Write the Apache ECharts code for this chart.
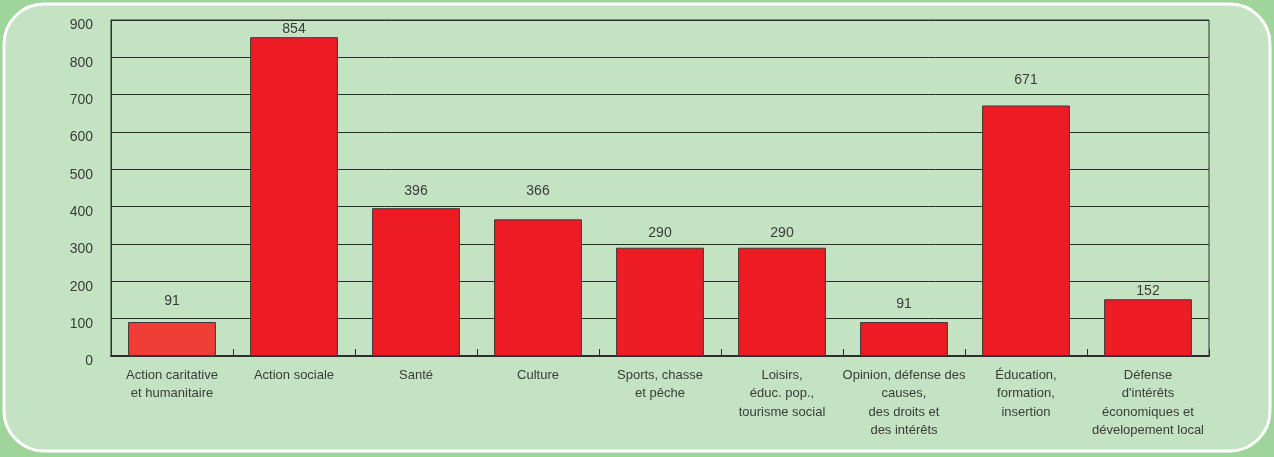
<!DOCTYPE html>
<html>
<head>
<meta charset="utf-8">
<script src="https://cdn.jsdelivr.net/npm/echarts@6/dist/echarts.min.js"></script>
<style>
  html, body { margin: 0; padding: 0; background: #9fd49a; }
  #chart { width: 1274px; height: 457px; }
</style>
</head>
<body>
<div id="chart"></div>
<script>
// Associations by sector of activity
const categories = [
  'Action caritative\net humanitaire',
  'Action sociale',
  'Santé',
  'Culture',
  'Sports, chasse\net pêche',
  'Loisirs,\néduc. pop.,\ntourisme social',
  'Opinion, défense des\ncauses,\ndes droits et\ndes intérêts',
  'Éducation,\nformation,\ninsertion',
  'Défense\nd\'intérêts\néconomiques et\ndévelopement local'
];
const values = [91, 854, 396, 366, 290, 290, 91, 671, 152];
const yTicks = [0, 100, 200, 300, 400, 500, 600, 700, 800, 900];

// gap between each bar top and its value label (layout only)
const labelGap = [14, 1, 10, 21, 8, 8, 11, 18, 1];

const FONT = '"Liberation Sans", Arial, sans-serif';
const TEXT = '#3b3b3b';
const LINE = '#2e2e2e';

const chart = echarts.init(document.getElementById('chart'), null, { renderer: 'canvas' });

const barData = values.map((v, i) => ({
  value: v,
  itemStyle: { color: i === 0 ? '#ef3e36' : '#ed1c24' },
  label: { distance: labelGap[i] }
}));

chart.setOption({
  animation: false,
  backgroundColor: '#9fd49a',
  graphic: [{
    type: 'rect',
    z: -10,
    silent: true,
    shape: { x: 4, y: 4, width: 1266, height: 447, r: 40 },
    style: { fill: '#c4e3c2', stroke: '#ffffff', lineWidth: 3 }
  }],
  grid: {
    left: 111, right: 65, top: 20, bottom: 101,
    show: true, borderColor: LINE, borderWidth: 1, backgroundColor: 'transparent'
  },
  xAxis: {
    type: 'category',
    data: categories,
    axisLine: { show: true, lineStyle: { color: LINE, width: 2 } },
    axisTick: { show: true, inside: true, length: 7, lineStyle: { color: LINE, width: 1 } },
    axisLabel: {
      color: TEXT, fontFamily: FONT, fontSize: 13, lineHeight: 18.5,
      margin: 10, interval: 0
    },
    splitLine: { show: false }
  },
  yAxis: {
    type: 'value',
    min: yTicks[0], max: yTicks[yTicks.length - 1], interval: 100,
    axisLine: { show: true, lineStyle: { color: LINE, width: 1 } },
    axisTick: { show: false },
    axisLabel: {
      color: TEXT, fontFamily: FONT, fontSize: 14, margin: 18,
      verticalAlign: 'top', lineHeight: 11
    },
    splitLine: { show: true, lineStyle: { color: LINE, width: 1 } }
  },
  series: [{
    type: 'bar',
    data: barData,
    barWidth: '72%',
    itemStyle: { borderColor: '#3a3a3a', borderWidth: 1 },
    label: {
      show: true, position: 'top',
      color: TEXT, fontFamily: FONT, fontSize: 14
    }
  }]
});
</script>
</body>
</html>
